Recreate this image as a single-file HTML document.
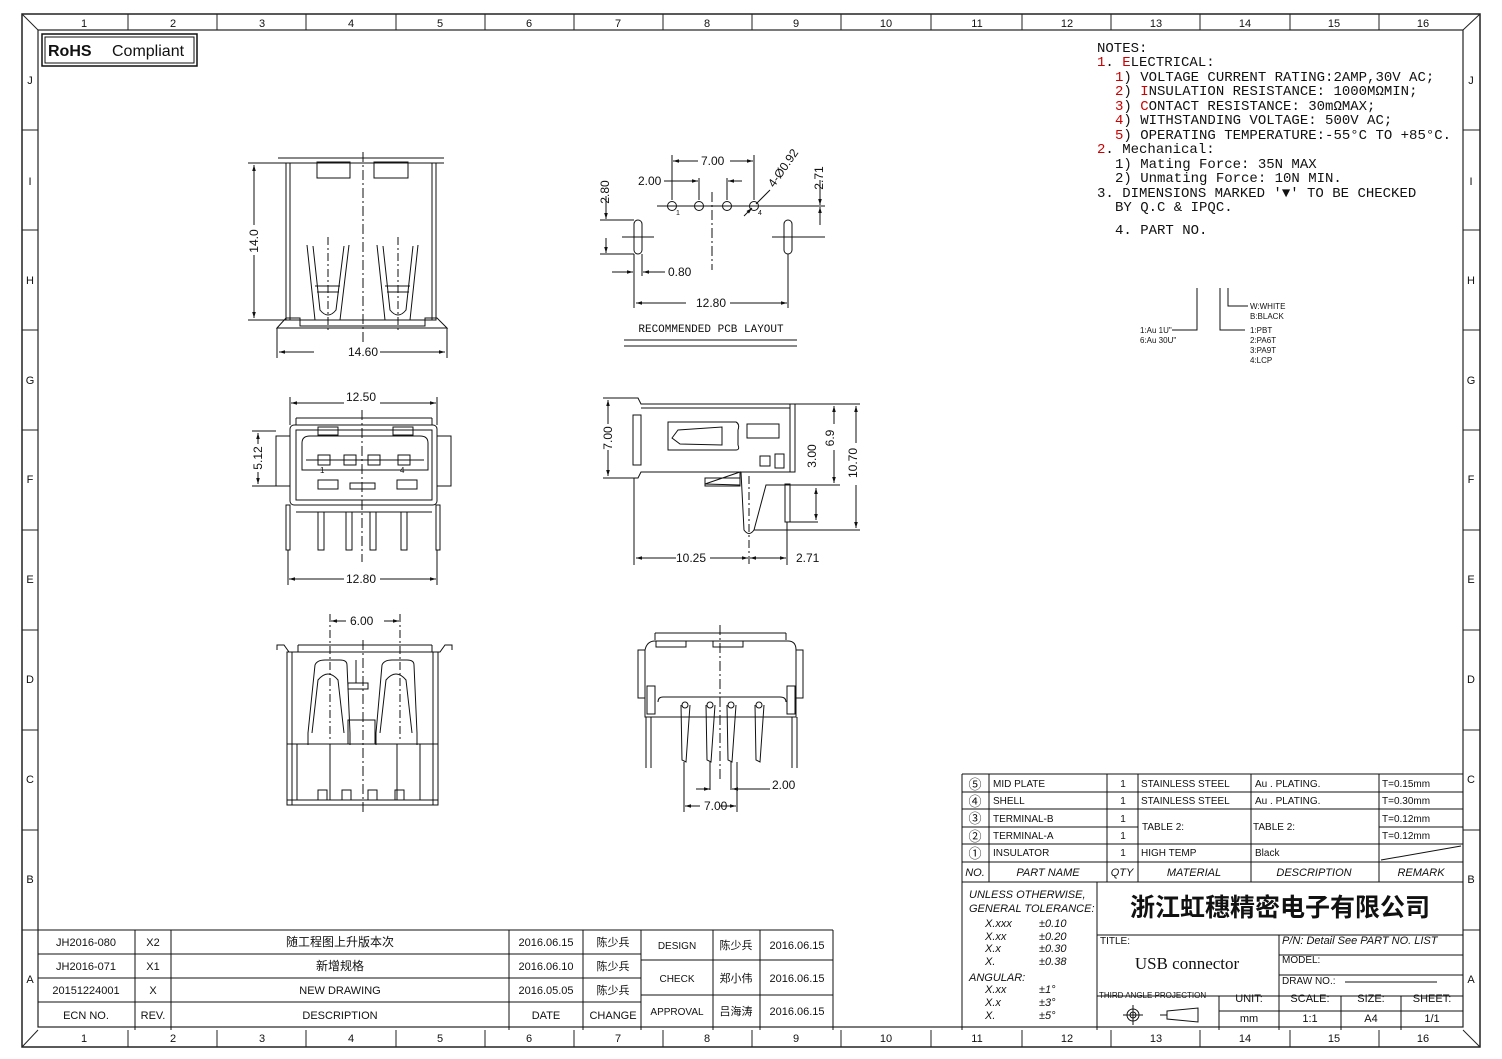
<!DOCTYPE html>
<html><head><meta charset="utf-8"><style>
html,body{margin:0;padding:0;background:#fff}
svg{display:block}
text{font-family:"Liberation Sans","Noto Sans CJK SC",sans-serif;fill:#111}
text.m,.m text{font-family:"Liberation Mono","DejaVu Sans Mono",monospace}
text.cj,.cj text{font-family:"Noto Sans CJK SC","WenQuanYi Zen Hei",sans-serif}
text.sf{font-family:"Liberation Serif",serif}
</style></head><body>
<svg width="1502" height="1059" viewBox="0 0 1502 1059" xmlns="http://www.w3.org/2000/svg">
<defs>
<marker id="a" viewBox="0 0 10 10" refX="10" refY="5" markerWidth="8" markerHeight="6" orient="auto-start-reverse"><path d="M0,2 L10,5 L0,8 z" fill="#111"/></marker>
</defs>
<rect width="1502" height="1059" fill="#fff"/>
<rect x="22" y="14" width="1458" height="1033" fill="none" stroke="#222" stroke-width="1.5"/>
<rect x="38" y="30" width="1425" height="997" fill="none" stroke="#222" stroke-width="1.2"/>
<g stroke="#222" stroke-width="1"><line x1="22" y1="14" x2="38" y2="30"/><line x1="1480" y1="14" x2="1463" y2="30"/><line x1="22" y1="1047" x2="38" y2="1030"/><line x1="1480" y1="1047" x2="1463" y2="1030"/></g>
<g stroke="#222" stroke-width="1">
<line x1="128" y1="14" x2="128" y2="30"/><line x1="217" y1="14" x2="217" y2="30"/><line x1="306" y1="14" x2="306" y2="30"/><line x1="396" y1="14" x2="396" y2="30"/><line x1="485" y1="14" x2="485" y2="30"/><line x1="574" y1="14" x2="574" y2="30"/><line x1="663" y1="14" x2="663" y2="30"/><line x1="752" y1="14" x2="752" y2="30"/><line x1="841" y1="14" x2="841" y2="30"/><line x1="931" y1="14" x2="931" y2="30"/><line x1="1022" y1="14" x2="1022" y2="30"/><line x1="1111" y1="14" x2="1111" y2="30"/><line x1="1200" y1="14" x2="1200" y2="30"/><line x1="1290" y1="14" x2="1290" y2="30"/><line x1="1379" y1="14" x2="1379" y2="30"/>
<line x1="128" y1="1030" x2="128" y2="1047"/><line x1="217" y1="1030" x2="217" y2="1047"/><line x1="306" y1="1030" x2="306" y2="1047"/><line x1="396" y1="1030" x2="396" y2="1047"/><line x1="485" y1="1030" x2="485" y2="1047"/><line x1="574" y1="1030" x2="574" y2="1047"/><line x1="663" y1="1030" x2="663" y2="1047"/><line x1="752" y1="1030" x2="752" y2="1047"/><line x1="841" y1="1030" x2="841" y2="1047"/><line x1="931" y1="1030" x2="931" y2="1047"/><line x1="1022" y1="1030" x2="1022" y2="1047"/><line x1="1111" y1="1030" x2="1111" y2="1047"/><line x1="1200" y1="1030" x2="1200" y2="1047"/><line x1="1290" y1="1030" x2="1290" y2="1047"/><line x1="1379" y1="1030" x2="1379" y2="1047"/>
<line x1="22" y1="130" x2="38" y2="130"/><line x1="22" y1="230" x2="38" y2="230"/><line x1="22" y1="330" x2="38" y2="330"/><line x1="22" y1="430" x2="38" y2="430"/><line x1="22" y1="530" x2="38" y2="530"/><line x1="22" y1="630" x2="38" y2="630"/><line x1="22" y1="730" x2="38" y2="730"/><line x1="22" y1="830" x2="38" y2="830"/><line x1="22" y1="930" x2="38" y2="930"/>
<line x1="1463" y1="130" x2="1480" y2="130"/><line x1="1463" y1="230" x2="1480" y2="230"/><line x1="1463" y1="330" x2="1480" y2="330"/><line x1="1463" y1="430" x2="1480" y2="430"/><line x1="1463" y1="530" x2="1480" y2="530"/><line x1="1463" y1="630" x2="1480" y2="630"/><line x1="1463" y1="730" x2="1480" y2="730"/><line x1="1463" y1="830" x2="1480" y2="830"/><line x1="1463" y1="930" x2="1480" y2="930"/>
</g>
<g font-size="11" text-anchor="middle">
<text x="84" y="27">1</text><text x="173" y="27">2</text><text x="262" y="27">3</text><text x="351" y="27">4</text><text x="440" y="27">5</text><text x="529" y="27">6</text><text x="618" y="27">7</text><text x="707" y="27">8</text><text x="796" y="27">9</text><text x="886" y="27">10</text><text x="977" y="27">11</text><text x="1067" y="27">12</text><text x="1156" y="27">13</text><text x="1245" y="27">14</text><text x="1334" y="27">15</text><text x="1423" y="27">16</text>
<text x="84" y="1042">1</text><text x="173" y="1042">2</text><text x="262" y="1042">3</text><text x="351" y="1042">4</text><text x="440" y="1042">5</text><text x="529" y="1042">6</text><text x="618" y="1042">7</text><text x="707" y="1042">8</text><text x="796" y="1042">9</text><text x="886" y="1042">10</text><text x="977" y="1042">11</text><text x="1067" y="1042">12</text><text x="1156" y="1042">13</text><text x="1245" y="1042">14</text><text x="1334" y="1042">15</text><text x="1423" y="1042">16</text>
<text x="30" y="84">J</text><text x="30" y="185">I</text><text x="30" y="284">H</text><text x="30" y="384">G</text><text x="30" y="483">F</text><text x="30" y="583">E</text><text x="30" y="683">D</text><text x="30" y="783">C</text><text x="30" y="883">B</text><text x="30" y="983">A</text>
<text x="1471" y="84">J</text><text x="1471" y="185">I</text><text x="1471" y="284">H</text><text x="1471" y="384">G</text><text x="1471" y="483">F</text><text x="1471" y="583">E</text><text x="1471" y="683">D</text><text x="1471" y="783">C</text><text x="1471" y="883">B</text><text x="1471" y="983">A</text>
</g>
<rect x="42" y="34" width="155" height="32" fill="none" stroke="#111" stroke-width="1.5"/>
<rect x="45" y="37" width="149" height="26" fill="none" stroke="#111" stroke-width="1"/>
<text x="48" y="56" font-size="16" font-weight="bold">RoHS</text><text x="112" y="56" font-size="16">Compliant</text>

<g class="m" font-size="14">
<text x="1097" y="52">NOTES:</text>
<text x="1097" y="66"><tspan fill="#c00">1</tspan>. <tspan fill="#c00">E</tspan>LECTRICAL:</text>
<text x="1115" y="81"><tspan fill="#c00">1</tspan>) VOLTAGE CURRENT RATING:2AMP,30V AC;</text>
<text x="1115" y="95"><tspan fill="#c00">2</tspan>) <tspan fill="#c00">I</tspan>NSULATION RESISTANCE: 1000MΩMIN;</text>
<text x="1115" y="110"><tspan fill="#c00">3</tspan>) <tspan fill="#c00">C</tspan>ONTACT RESISTANCE: 30mΩMAX;</text>
<text x="1115" y="124"><tspan fill="#c00">4</tspan>) WITHSTANDING VOLTAGE: 500V AC;</text>
<text x="1115" y="139"><tspan fill="#c00">5</tspan>) OPERATING TEMPERATURE:-55°C TO +85°C.</text>
<text x="1097" y="153"><tspan fill="#c00">2</tspan>. Mechanical:</text>
<text x="1115" y="168">1) Mating Force: 35N  MAX</text>
<text x="1115" y="182">2) Unmating Force: 10N  MIN.</text>
<text x="1097" y="197">3. DIMENSIONS MARKED '▼' TO BE CHECKED</text>
<text x="1115" y="211">BY Q.C &amp; IPQC.</text>
<text x="1115" y="234">4. PART NO.</text>
</g>
<g stroke="#111" fill="none" stroke-width="1"><polyline points="1197,288 1197,330 1172,330"/><polyline points="1220,288 1220,330 1245,330"/><polyline points="1228,288 1228,306 1248,306"/></g>
<g font-size="8">
<text x="1140" y="333">1:Au 1U"</text><text x="1140" y="343">6:Au 30U"</text>
<text x="1250" y="309">W:WHITE</text><text x="1250" y="319">B:BLACK</text>
<text x="1250" y="333">1:PBT</text><text x="1250" y="343">2:PA6T</text><text x="1250" y="353">3:PA9T</text><text x="1250" y="363">4:LCP</text>
</g>

<g stroke="#111" fill="none" stroke-width="1">
<rect x="286" y="163" width="150" height="157"/>
<line x1="290" y1="163" x2="290" y2="320"/><line x1="432" y1="163" x2="432" y2="320"/>
<line x1="278" y1="158" x2="444" y2="158"/><line x1="278" y1="163" x2="444" y2="163"/>
<rect x="317" y="162" width="33" height="16"/><rect x="374" y="162" width="34" height="16"/>
<path d="M277,328 L286,318 L300,318 L300,326 L425,326 L425,318 L437,318 L447,328 Z"/>
<line x1="298" y1="320" x2="428" y2="320"/>
<path d="M307,245 L315,320 L340,320 L349,245 M313,246 L320,310 Q328,320 336,310 L344,246"/>
<path d="M377,245 L385,320 L410,320 L418,245 M383,246 L390,310 Q398,320 406,310 L413,246"/>
<line x1="315" y1="286" x2="340" y2="286"/><line x1="317" y1="292" x2="339" y2="292"/>
<line x1="385" y1="286" x2="410" y2="286"/><line x1="387" y1="292" x2="409" y2="292"/>
<line x1="363" y1="152" x2="363" y2="345" stroke-dasharray="10,3,2,3"/>
<line x1="328" y1="237" x2="328" y2="330" stroke-dasharray="8,3,2,3"/><line x1="398" y1="237" x2="398" y2="330" stroke-dasharray="8,3,2,3"/>
<line x1="248" y1="163" x2="286" y2="163"/><line x1="248" y1="320" x2="286" y2="320"/>
<line x1="277" y1="328" x2="277" y2="358"/><line x1="447" y1="328" x2="447" y2="358"/>
</g>
<g stroke="#111" stroke-width="1">
<line x1="254" y1="165" x2="254" y2="225" marker-start="url(#a)"/><line x1="254" y1="255" x2="254" y2="318" marker-end="url(#a)"/>
<line x1="279" y1="352" x2="314" y2="352" marker-start="url(#a)"/><line x1="380" y1="352" x2="445" y2="352" marker-end="url(#a)"/>
</g>
<text x="258" y="241" font-size="12" transform="rotate(-90 258 241)" text-anchor="middle">14.0</text>
<text x="348" y="356" font-size="12">14.60</text>

<g stroke="#111" fill="none" stroke-width="1">
<rect x="290" y="425" width="147" height="80" rx="4"/>
<rect x="296" y="430" width="136" height="70"/>
<line x1="296" y1="418" x2="432" y2="418"/><line x1="296" y1="418" x2="296" y2="425"/><line x1="432" y1="418" x2="432" y2="425"/>
<path d="M302,470 L302,443 Q302,436 310,436 L420,436 Q428,436 428,443 L428,470 Z"/>
<line x1="306" y1="460" x2="424" y2="460"/>
<rect x="276" y="436" width="14" height="50"/><rect x="437" y="436" width="14" height="50"/>
<rect x="318" y="455" width="12" height="10"/><rect x="344" y="455" width="12" height="10"/><rect x="368" y="455" width="12" height="10"/><rect x="398" y="455" width="12" height="10"/>
<rect x="318" y="480" width="20" height="9"/><rect x="397" y="480" width="20" height="9"/><rect x="350" y="483" width="25" height="6"/>
<rect x="318" y="427" width="20" height="8"/><rect x="393" y="427" width="20" height="8"/>
<line x1="296" y1="505" x2="432" y2="505"/><line x1="296" y1="512" x2="432" y2="512"/>
<rect x="318" y="512" width="6" height="38"/><rect x="346" y="512" width="6" height="38"/><rect x="370" y="512" width="6" height="38"/><rect x="401" y="512" width="6" height="38"/>
<rect x="286" y="505" width="4" height="45"/><rect x="436" y="505" width="4" height="45"/>
<line x1="362" y1="410" x2="362" y2="562" stroke-dasharray="10,3,2,3"/>
<line x1="290" y1="397" x2="290" y2="425"/><line x1="437" y1="397" x2="437" y2="425"/>
<line x1="252" y1="431" x2="276" y2="431"/><line x1="252" y1="486" x2="276" y2="486"/>
<line x1="288" y1="550" x2="288" y2="585"/><line x1="437" y1="550" x2="437" y2="585"/>
</g>
<g stroke="#111" stroke-width="1">
<line x1="291" y1="403" x2="344" y2="403" marker-start="url(#a)"/><line x1="380" y1="403" x2="436" y2="403" marker-end="url(#a)"/>
<line x1="258" y1="433" x2="258" y2="444" marker-start="url(#a)"/><line x1="258" y1="472" x2="258" y2="484" marker-end="url(#a)"/>
<line x1="289" y1="579" x2="344" y2="579" marker-start="url(#a)"/><line x1="380" y1="579" x2="436" y2="579" marker-end="url(#a)"/>
</g>
<text x="346" y="401" font-size="12">12.50</text>
<text x="262" y="458" font-size="12" transform="rotate(-90 262 458)" text-anchor="middle">5.12</text>
<text x="346" y="583" font-size="12">12.80</text>
<text x="320" y="473" font-size="8">1</text><text x="400" y="473" font-size="8">4</text>

<g stroke="#111" fill="none" stroke-width="1">
<circle cx="672" cy="206" r="4.5"/><circle cx="699" cy="206" r="4.5"/><circle cx="727" cy="206" r="4.5"/><circle cx="754" cy="206" r="4.5"/>
<line x1="657" y1="206" x2="770" y2="206"/>
<rect x="634" y="220" width="8" height="34" rx="4"/><rect x="784" y="220" width="8" height="34" rx="4"/>
<line x1="622" y1="237" x2="654" y2="237"/><line x1="772" y1="237" x2="804" y2="237"/>
<line x1="712" y1="192" x2="712" y2="270" stroke-dasharray="10,3,2,3"/>
<line x1="672" y1="155" x2="672" y2="200"/><line x1="754" y1="155" x2="754" y2="200"/><line x1="699" y1="178" x2="699" y2="200"/><line x1="727" y1="178" x2="727" y2="200"/>
<line x1="600" y1="220" x2="634" y2="220"/><line x1="600" y1="254" x2="634" y2="254"/>
<line x1="634" y1="254" x2="634" y2="308"/><line x1="642" y1="254" x2="642" y2="276"/><line x1="788" y1="254" x2="788" y2="308"/>
<line x1="765" y1="206" x2="825" y2="206"/><line x1="795" y1="237" x2="825" y2="237"/>
<line x1="624" y1="340" x2="797" y2="340"/><line x1="624" y1="346" x2="797" y2="346"/>
</g>
<g stroke="#111" stroke-width="1">
<line x1="673" y1="161" x2="698" y2="161" marker-start="url(#a)"/><line x1="730" y1="161" x2="753" y2="161" marker-end="url(#a)"/>
<line x1="664" y1="181" x2="698" y2="181" marker-end="url(#a)"/><line x1="742" y1="181" x2="728" y2="181" marker-end="url(#a)"/>
<line x1="606" y1="196" x2="606" y2="219" marker-end="url(#a)"/><line x1="606" y1="238" x2="606" y2="253" marker-end="url(#a)"/>
<line x1="612" y1="272" x2="633" y2="272" marker-end="url(#a)"/><line x1="665" y1="272" x2="643" y2="272" marker-end="url(#a)"/>
<line x1="636" y1="303" x2="686" y2="303" marker-start="url(#a)"/><line x1="730" y1="303" x2="787" y2="303" marker-end="url(#a)"/>
<line x1="820" y1="180" x2="820" y2="205" marker-end="url(#a)"/><line x1="820" y1="225" x2="820" y2="207" marker-end="url(#a)"/>
<line x1="744" y1="216" x2="752" y2="208" marker-end="url(#a)"/><line x1="756" y1="204" x2="770" y2="190"/>
</g>
<text x="701" y="165" font-size="12">7.00</text>
<text x="638" y="185" font-size="12">2.00</text>
<text x="609" y="192" font-size="12" transform="rotate(-90 609 192)" text-anchor="middle">2.80</text>
<text x="668" y="276" font-size="12">0.80</text>
<text x="696" y="307" font-size="12">12.80</text>
<text x="823" y="178" font-size="12" transform="rotate(-90 823 178)" text-anchor="middle">2.71</text>
<text x="774" y="188" font-size="12" transform="rotate(-55 774 188)">4-Ø0.92</text>
<g font-size="7"><text x="676" y="215">1</text><text x="758" y="215">4</text></g>
<text x="711" y="332" font-size="11" class="m" text-anchor="middle">RECOMMENDED PCB LAYOUT</text>

<g stroke="#111" fill="none" stroke-width="1">
<path d="M634,398 L638,398 L641,404 L795,404 L795,472 L641,472 L638,478 L634,478"/>
<rect x="633" y="415" width="8" height="50"/>
<line x1="641" y1="408" x2="790" y2="408"/><line x1="790" y1="404" x2="790" y2="472"/>
<path d="M668,422 L736,422 Q740,424 738,430 L738,445 Q740,450 736,450 L668,450 Z"/>
<path d="M672,438 L678,430 L722,427 L722,445 L680,444 Z"/>
<rect x="747" y="424" width="32" height="14"/><rect x="760" y="456" width="10" height="10"/><rect x="775" y="454" width="9" height="14"/>
<path d="M705,484 L740,472 L740,485 Z"/><rect x="705" y="478" width="35" height="8"/>
<path d="M741,472 L744,530 Q749,537 754,530 L766,485 L790,485"/>
<rect x="785" y="484" width="5" height="38"/>
<line x1="749" y1="476" x2="749" y2="565" stroke-dasharray="8,3,2,3"/>
<line x1="603" y1="398" x2="634" y2="398"/><line x1="603" y1="478" x2="634" y2="478"/>
<line x1="634" y1="478" x2="634" y2="565"/><line x1="787" y1="522" x2="787" y2="565"/>
<line x1="795" y1="404" x2="860" y2="404"/><line x1="790" y1="485" x2="840" y2="485"/><line x1="790" y1="522" x2="818" y2="522"/><line x1="754" y1="530" x2="860" y2="530"/>
</g>
<g stroke="#111" stroke-width="1">
<line x1="608" y1="400" x2="608" y2="424" marker-start="url(#a)"/><line x1="608" y1="450" x2="608" y2="476" marker-end="url(#a)"/>
<line x1="834" y1="406" x2="834" y2="424" marker-start="url(#a)"/><line x1="834" y1="450" x2="834" y2="483" marker-end="url(#a)"/>
<line x1="856" y1="406" x2="856" y2="443" marker-start="url(#a)"/><line x1="856" y1="485" x2="856" y2="528" marker-end="url(#a)"/>
<line x1="816" y1="488" x2="816" y2="520" marker-start="url(#a)" marker-end="url(#a)"/>
<line x1="636" y1="558" x2="676" y2="558" marker-start="url(#a)"/><line x1="710" y1="558" x2="748" y2="558" marker-end="url(#a)"/>
<line x1="750" y1="558" x2="786" y2="558" marker-start="url(#a)" marker-end="url(#a)"/>
</g>
<text x="612" y="438" font-size="12" transform="rotate(-90 612 438)" text-anchor="middle">7.00</text>
<text x="834" y="438" font-size="12" transform="rotate(-90 834 438)" text-anchor="middle">6.9</text>
<text x="857" y="463" font-size="12" transform="rotate(-90 857 463)" text-anchor="middle">10.70</text>
<text x="816" y="456" font-size="12" transform="rotate(-90 816 456)" text-anchor="middle">3.00</text>
<text x="676" y="562" font-size="12">10.25</text>
<text x="796" y="562" font-size="12">2.71</text>

<g stroke="#111" fill="none" stroke-width="1">
<path d="M277,650 L277,645 L284,645 L289,652 L440,652 L445,645 L452,645 L452,650"/>
<line x1="298" y1="645" x2="432" y2="645"/><line x1="298" y1="645" x2="298" y2="652"/><line x1="432" y1="645" x2="432" y2="652"/>
<rect x="287" y="652" width="151" height="153"/>
<line x1="292" y1="652" x2="292" y2="805"/><line x1="433" y1="652" x2="433" y2="805"/>
<line x1="287" y1="744" x2="438" y2="744"/>
<path d="M308,745 L308,733 L315,665 Q317,660 325,660 L340,660 Q347,660 347,665 L350,733 L350,745"/>
<path d="M312,733 L318,680 Q328,668 338,680 L344,733"/>
<path d="M376,745 L376,733 L382,665 Q384,660 392,660 L407,660 Q414,660 414,665 L417,733 L417,745"/>
<path d="M380,733 L386,680 Q396,668 406,680 L412,733"/>
<rect x="348" y="683" width="20" height="6"/><line x1="356" y1="660" x2="356" y2="683"/>
<path d="M348,744 L348,720 L375,720 L375,744"/>
<line x1="297" y1="744" x2="297" y2="800"/><line x1="330" y1="744" x2="330" y2="800"/><line x1="397" y1="744" x2="397" y2="800"/><line x1="420" y1="744" x2="420" y2="800"/>
<rect x="318" y="790" width="9" height="10"/><rect x="342" y="790" width="9" height="10"/><rect x="368" y="790" width="9" height="10"/><rect x="395" y="790" width="9" height="10"/>
<line x1="287" y1="800" x2="438" y2="800"/>
<line x1="363" y1="640" x2="363" y2="815" stroke-dasharray="10,3,2,3"/>
<line x1="330" y1="614" x2="330" y2="740" stroke-dasharray="8,3,2,3"/><line x1="400" y1="614" x2="400" y2="740" stroke-dasharray="8,3,2,3"/>
</g>
<g stroke="#111" stroke-width="1"><line x1="331" y1="621" x2="346" y2="621" marker-start="url(#a)"/><line x1="384" y1="621" x2="399" y2="621" marker-end="url(#a)"/></g>
<text x="350" y="625" font-size="12">6.00</text>

<g stroke="#111" fill="none" stroke-width="1">
<line x1="655" y1="633" x2="786" y2="633"/><line x1="655" y1="633" x2="655" y2="640"/><line x1="786" y1="633" x2="786" y2="640"/>
<path d="M645,650 Q647,641 655,641 L788,641 Q796,641 796,650 L796,717 L645,717 Z"/>
<rect x="638" y="650" width="7" height="48"/><rect x="796" y="650" width="7" height="48"/>
<rect x="647" y="686" width="8" height="28"/><rect x="787" y="686" width="8" height="28"/>
<rect x="656" y="641" width="30" height="6"/><rect x="713" y="641" width="30" height="6"/>
<path d="M658,702 Q658,697 663,697 L780,697 Q786,697 786,702"/>
<line x1="646" y1="717" x2="646" y2="768"/><line x1="651" y1="717" x2="651" y2="768"/>
<line x1="792" y1="717" x2="792" y2="768"/><line x1="797" y1="717" x2="797" y2="768"/>
<path d="M681,705 L682,760 L686,762 L690,705"/><path d="M706,705 L707,760 L711,762 L715,705"/>
<path d="M727,705 L728,760 L732,762 L736,705"/><path d="M755,705 L756,760 L760,762 L764,705"/>
<circle cx="685" cy="705" r="3"/><circle cx="710" cy="705" r="3"/><circle cx="731" cy="705" r="3"/><circle cx="759" cy="705" r="3"/>
<line x1="720" y1="625" x2="720" y2="780" stroke-dasharray="10,3,2,3"/>
<line x1="684" y1="762" x2="684" y2="812"/><line x1="737" y1="762" x2="737" y2="812"/>
<line x1="710" y1="762" x2="710" y2="790"/><line x1="731" y1="762" x2="731" y2="790"/>
</g>
<g stroke="#111" stroke-width="1">
<line x1="696" y1="789" x2="710" y2="789" marker-end="url(#a)"/><line x1="770" y1="789" x2="732" y2="789" marker-end="url(#a)"/>
<line x1="685" y1="806" x2="700" y2="806" marker-start="url(#a)"/><line x1="720" y1="806" x2="736" y2="806" marker-end="url(#a)"/>
</g>
<text x="772" y="789" font-size="12">2.00</text>
<text x="704" y="810" font-size="12">7.00</text>

<g stroke="#111" stroke-width="1" fill="none">
<line x1="962" y1="774" x2="1463" y2="774"/><line x1="962" y1="792" x2="1463" y2="792"/><line x1="962" y1="809" x2="1463" y2="809"/>
<line x1="962" y1="827" x2="1138" y2="827"/><line x1="1379" y1="827" x2="1463" y2="827"/>
<line x1="962" y1="844" x2="1463" y2="844"/><line x1="962" y1="862" x2="1463" y2="862"/><line x1="962" y1="882" x2="1463" y2="882"/>
<line x1="962" y1="774" x2="962" y2="1030"/><line x1="989" y1="774" x2="989" y2="882"/><line x1="1107" y1="774" x2="1107" y2="882"/><line x1="1138" y1="774" x2="1138" y2="882"/><line x1="1251" y1="774" x2="1251" y2="882"/><line x1="1379" y1="774" x2="1379" y2="882"/>
<line x1="1381" y1="860" x2="1461" y2="846"/>
<line x1="1097" y1="882" x2="1097" y2="1030"/>
<line x1="1097" y1="935" x2="1463" y2="935"/><line x1="1279" y1="935" x2="1279" y2="1030"/>
<line x1="1279" y1="955" x2="1463" y2="955"/><line x1="1279" y1="975" x2="1463" y2="975"/>
<line x1="1097" y1="996" x2="1463" y2="996"/><line x1="1219" y1="996" x2="1219" y2="1030"/><line x1="1341" y1="996" x2="1341" y2="1030"/><line x1="1401" y1="996" x2="1401" y2="1030"/>
<line x1="1219" y1="1011" x2="1463" y2="1011"/>
<line x1="1345" y1="982" x2="1437" y2="982"/>
<circle cx="1133" cy="1015" r="6"/><circle cx="1133" cy="1015" r="3"/><line x1="1123" y1="1015" x2="1143" y2="1015"/><line x1="1133" y1="1005" x2="1133" y2="1025"/>
<path d="M1167,1011 L1198,1008 L1198,1022 L1167,1019 Z"/><line x1="1160" y1="1015" x2="1167" y2="1015"/>
</g>
<g font-size="10">
<text x="993" y="787">MID PLATE</text><text x="993" y="804">SHELL</text><text x="993" y="822">TERMINAL-B</text><text x="993" y="839">TERMINAL-A</text><text x="993" y="856">INSULATOR</text>
<text x="1123" y="787" text-anchor="middle">1</text><text x="1123" y="804" text-anchor="middle">1</text><text x="1123" y="822" text-anchor="middle">1</text><text x="1123" y="839" text-anchor="middle">1</text><text x="1123" y="856" text-anchor="middle">1</text>
<text x="1141" y="787">STAINLESS STEEL</text><text x="1141" y="804">STAINLESS STEEL</text><text x="1142" y="830">TABLE 2:</text><text x="1141" y="856">HIGH TEMP</text>
<text x="1255" y="787">Au . PLATING.</text><text x="1255" y="804">Au . PLATING.</text><text x="1253" y="830">TABLE 2:</text><text x="1255" y="856">Black</text>
<text x="1382" y="787">T=0.15mm</text><text x="1382" y="804">T=0.30mm</text><text x="1382" y="822">T=0.12mm</text><text x="1382" y="839">T=0.12mm</text>
</g>
<g font-size="13" text-anchor="middle">
<text x="975" y="789">⑤</text><text x="975" y="806">④</text><text x="975" y="823">③</text><text x="975" y="841">②</text><text x="975" y="858">①</text>
</g>
<g font-size="11" font-style="italic" text-anchor="middle">
<text x="975" y="876">NO.</text><text x="1048" y="876">PART NAME</text><text x="1122" y="876">QTY</text><text x="1194" y="876">MATERIAL</text><text x="1314" y="876">DESCRIPTION</text><text x="1421" y="876">REMARK</text>
</g>
<g font-size="11" font-style="italic">
<text x="969" y="898">UNLESS OTHERWISE,</text><text x="969" y="912">GENERAL TOLERANCE:</text>
<text x="985" y="927">X.xxx</text><text x="1039" y="927">±0.10</text>
<text x="985" y="940">X.xx</text><text x="1039" y="940">±0.20</text>
<text x="985" y="952">X.x</text><text x="1039" y="952">±0.30</text>
<text x="985" y="965">X.</text><text x="1039" y="965">±0.38</text>
<text x="969" y="981">ANGULAR:</text>
<text x="985" y="993">X.xx</text><text x="1039" y="993">±1°</text>
<text x="985" y="1006">X.x</text><text x="1039" y="1006">±3°</text>
<text x="985" y="1019">X.</text><text x="1039" y="1019">±5°</text>
<text x="1282" y="944">P/N: Detail See PART NO. LIST</text>
</g>
<text x="1280" y="916" font-size="25" font-weight="bold" text-anchor="middle" class="cj">浙江虹穗精密电子有限公司</text>
<text x="1100" y="944" font-size="10">TITLE:</text>
<text x="1187" y="969" font-size="17" class="sf" text-anchor="middle">USB connector</text>
<text x="1282" y="963" font-size="10">MODEL:</text>
<text x="1282" y="984" font-size="10">DRAW NO.:</text>
<text x="1099" y="998" font-size="8">THIRD ANGLE PROJECTION</text>
<g font-size="11" text-anchor="middle">
<text x="1249" y="1002">UNIT:</text><text x="1310" y="1002">SCALE:</text><text x="1371" y="1002">SIZE:</text><text x="1432" y="1002">SHEET:</text>
<text x="1249" y="1022">mm</text><text x="1310" y="1022">1:1</text><text x="1371" y="1022">A4</text><text x="1432" y="1022">1/1</text>
</g>

<g stroke="#111" stroke-width="1" fill="none">
<line x1="38" y1="930" x2="833" y2="930"/><line x1="38" y1="954" x2="641" y2="954"/><line x1="38" y1="978" x2="641" y2="978"/><line x1="38" y1="1002" x2="641" y2="1002"/>
<line x1="641" y1="960" x2="833" y2="960"/><line x1="641" y1="995" x2="833" y2="995"/>
<line x1="135" y1="930" x2="135" y2="1030"/><line x1="171" y1="930" x2="171" y2="1030"/><line x1="509" y1="930" x2="509" y2="1030"/><line x1="583" y1="930" x2="583" y2="1030"/><line x1="641" y1="930" x2="641" y2="1030"/><line x1="713" y1="930" x2="713" y2="1030"/><line x1="760" y1="930" x2="760" y2="1030"/><line x1="833" y1="930" x2="833" y2="1030"/>
</g>
<g font-size="11" text-anchor="middle">
<text x="86" y="946">JH2016-080</text><text x="153" y="946">X2</text><text x="340" y="946" class="cj" font-size="12">随工程图上升版本次</text><text x="546" y="946">2016.06.15</text><text x="613" y="946" class="cj">陈少兵</text>
<text x="86" y="970">JH2016-071</text><text x="153" y="970">X1</text><text x="340" y="970" class="cj" font-size="12">新增规格</text><text x="546" y="970">2016.06.10</text><text x="613" y="970" class="cj">陈少兵</text>
<text x="86" y="994">20151224001</text><text x="153" y="994">X</text><text x="340" y="994">NEW DRAWING</text><text x="546" y="994">2016.05.05</text><text x="613" y="994" class="cj">陈少兵</text>
<text x="86" y="1019">ECN NO.</text><text x="153" y="1019">REV.</text><text x="340" y="1019">DESCRIPTION</text><text x="546" y="1019">DATE</text><text x="613" y="1019">CHANGE</text>
<text x="677" y="949" font-size="10">DESIGN</text><text x="736" y="949" class="cj">陈少兵</text><text x="797" y="949">2016.06.15</text>
<text x="677" y="982" font-size="10">CHECK</text><text x="736" y="982" class="cj">郑小伟</text><text x="797" y="982">2016.06.15</text>
<text x="677" y="1015" font-size="10">APPROVAL</text><text x="736" y="1015" class="cj">吕海涛</text><text x="797" y="1015">2016.06.15</text>
</g>
</svg>
</body></html>
